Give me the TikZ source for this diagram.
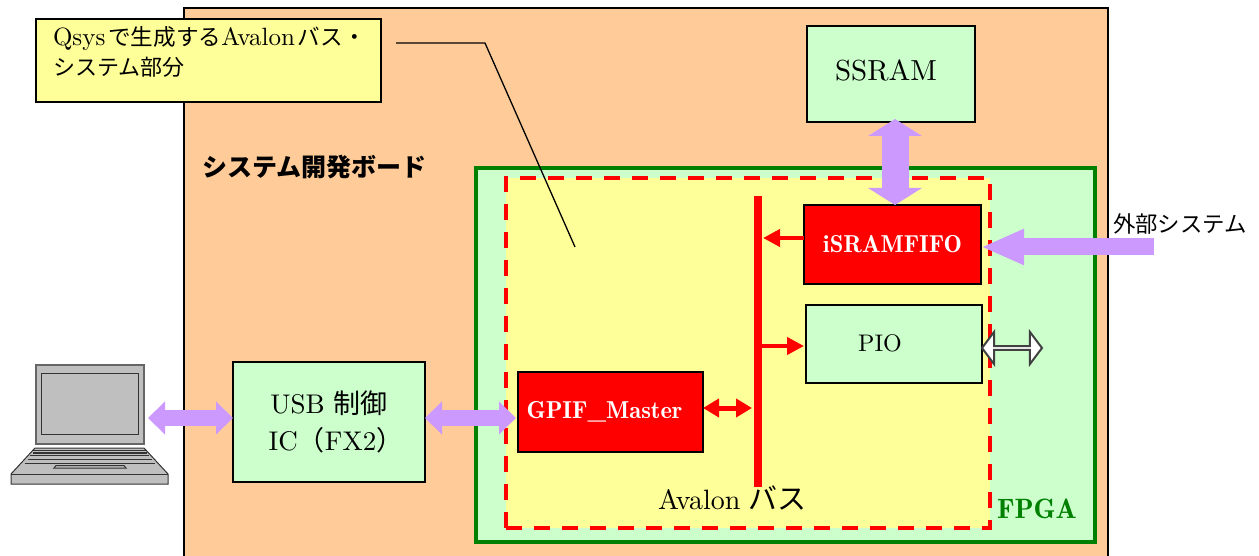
\documentclass[tikz,border=0pt]{standalone}
\usepackage{fontspec}
\setmainfont{lmroman10-regular.otf}[BoldFont=lmromandemi10-regular.otf]
\newfontfamily\jp{Noto Sans CJK JP}
\usepackage{tikz}
\usetikzlibrary{shapes, arrows.meta, positioning}
\definecolor{peach}{HTML}{FFCC99}
\definecolor{palegreen}{HTML}{CCFFCC}
\definecolor{paleyellow}{HTML}{FFFF99}
\definecolor{lilac}{HTML}{CC99FF}
\definecolor{fpgagreen}{HTML}{008000}
\definecolor{pcgray}{HTML}{BFBFBF}
\tikzstyle{box}      = [draw, line width=2pt, outer sep=0pt, inner sep=0pt]
\tikzstyle{greenbox} = [box, fill=palegreen, font=\fontsize{27}{37}\selectfont]
\tikzstyle{redbox}   = [box, fill=red, text=white, font=\fontsize{24.5}{26}\selectfont\bfseries]
\tikzstyle{txt}      = [inner sep=0pt, outer sep=0pt]
\tikzstyle{bigarrow} = [color=lilac, line width=16pt]
\tikzstyle{redarrow} = [color=red, line width=4pt]
\tikzstyle{pcline}   = [draw=black!80, line width=1pt]

\begin{document}
\begin{tikzpicture}[x=1pt, y=-1pt]
\clip (0,0) rectangle (1259,556);

% board and regions
\node [box, fill=peach, minimum width=924, minimum height=572, anchor=north west] at (184,8) (board) {};
\node [draw=fpgagreen, fill=palegreen, line width=4pt, outer sep=0pt, minimum width=619.5, minimum height=374, anchor=north west] at (475.5,168) (fpga) {};
\node [draw=red, fill=paleyellow, line width=4pt, dash pattern=on 16pt off 12pt, outer sep=0pt, minimum width=484, minimum height=350, anchor=north west] at (506,178) (qsys) {};

% callout
\node [box, fill=paleyellow, minimum width=345, minimum height=83, anchor=north west, align=left, text width=325, inner xsep=10pt, font=\fontsize{25}{30}\selectfont] at (36,19) (note)
  {\hspace*{7pt}Qsys\hspace{3pt}{\jp\fontsize{22.6}{30}\selectfont で生成する}Avalon\hspace{3pt}{\jp\fontsize{22.6}{30}\selectfont バス・}\\\hspace*{7pt}{\jp\fontsize{22}{30}\selectfont システム部分}\\[-12pt]\ };
\coordinate (noteend) at (396,43);
\coordinate (notebend) at (485,43);
\coordinate (notetip) at (575,247);

% blocks
\node [greenbox, minimum width=168, minimum height=96, label={[txt, xshift=-5pt, yshift=4pt, font=\fontsize{29}{32}\selectfont]center:SSRAM}] at (891,74) (ssram) {};
\node [redbox, minimum width=177, minimum height=79] at (892.5,244.5) (fifo) {iSRAMFIFO};
\node [greenbox, minimum width=176, minimum height=78, label={[txt, xshift=-14pt, yshift=1pt, font=\fontsize{24}{26}\selectfont]center:PIO}] at (894,344) (pio) {};
\node [redbox, minimum width=185, minimum height=80, align=left, text width=176, inner xsep=0pt] at (610.5,412) (gpif) {\hspace*{4pt}GPIF\_Master};
\node [greenbox, minimum width=192, minimum height=120, align=center] at (329,422) (usb) {USB\hspace{9pt}{\jp 制御}\\\hspace*{14pt}IC{\jp（}FX2{\jp）}};
\node [draw=none, fill=red, minimum width=8, minimum height=291, inner sep=0pt, outer sep=0pt] at (758,341.5) (bus) {};

% texts
\node [txt, anchor=west, font=\jp\bfseries\fontsize{25}{28}\selectfont] at (202,167) (boardname) {システム開発ボード};
\node [txt, anchor=west, font=\fontsize{28}{32}\selectfont] at (658,498) (busname) {Avalon\hspace{8pt}{\jp\fontsize{29}{32}\selectfont バス}};
\node [txt, anchor=west, text=fpgagreen, font=\bfseries\fontsize{28}{30}\selectfont] at (997,509) (fpganame) {FPGA};
\node [txt, anchor=west, font=\jp\fontsize{22.4}{26}\selectfont] at (1113,224) (extname) {外部システム};

% ports
\coordinate (pcport) at (148,418);
\coordinate (extport) at (1154,247);
\node [draw=black!75, fill=white, line width=2pt, shape=double arrow, double arrow head extend=8pt, double arrow tip angle=106, minimum width=32, minimum height=60, inner sep=0pt, outer sep=0pt] at (1012,348) (pioport) {};

% laptop
\draw [pcline, draw=black!60, fill=pcgray, line width=1.5pt] (36,365) rectangle (144,444);
\draw [pcline, fill=pcgray] (41.5,373) rectangle (138,434);
\draw [pcline, fill=pcgray] (35,448) -- (144,448) -- (168,474) -- (168,484) -- (11,484) -- (11,474) -- cycle;
\draw [pcline] (11,474) -- (168,474);
\draw [pcline] (33,450) -- (146,450) (30,455) -- (149,455) (27.5,459) -- (152,459) (24.5,463.5) -- (155,463.5);
\draw [pcline, line width=2pt] (33,453) -- (147,453);
\draw [pcline] (54,468) -- (56,465.5) -- (124,465.5) -- (126,468) -- cycle;
\node [inner sep=0pt, outer sep=0pt, minimum width=157, minimum height=119, anchor=north west] at (11,365) (pc) {};

% edges
\draw [black, line width=1.3pt] (noteend) -- (notebend) -- (notetip);
\draw [bigarrow, {Triangle[length=17pt,width=32pt]}-{Triangle[length=17pt,width=32pt]}] (pcport) -- ([yshift=4pt]usb.west);
\draw [bigarrow, {Triangle[length=17pt,width=32pt]}-{Triangle[length=17pt,width=32pt]}] ([yshift=4pt]usb.east) -- ([xshift=-2pt,yshift=-6pt]gpif.west);
\draw [bigarrow, line width=27pt, {Triangle[length=17pt,width=53pt]}-{Triangle[length=17pt,width=53pt]}] ([xshift=4pt,yshift=3pt]ssram.south) -- ([xshift=2.5pt]fifo.north);
\draw [bigarrow, line width=17pt, -{Triangle[length=43pt,width=33pt]}] (extport) -- (fifo.east |- extport);
\draw [redarrow, -{Triangle[length=17pt,width=17pt]}] ([yshift=6.5pt]fifo.west) -- ([xshift=1pt,yshift=6.5pt]fifo.west -| bus.east);
\draw [redarrow, -{Triangle[length=17pt,width=17pt]}] ([yshift=-2pt]pio.west -| bus.east) -- ([xshift=-2pt,yshift=-2pt]pio.west);
\draw [redarrow, line width=5pt, {Triangle[length=16pt,width=18pt]}-{Triangle[length=16pt,width=18pt]}] ([yshift=4pt]gpif.east) -- ([xshift=-2pt,yshift=4pt]gpif.east -| bus.west);

\end{tikzpicture}
\end{document}
